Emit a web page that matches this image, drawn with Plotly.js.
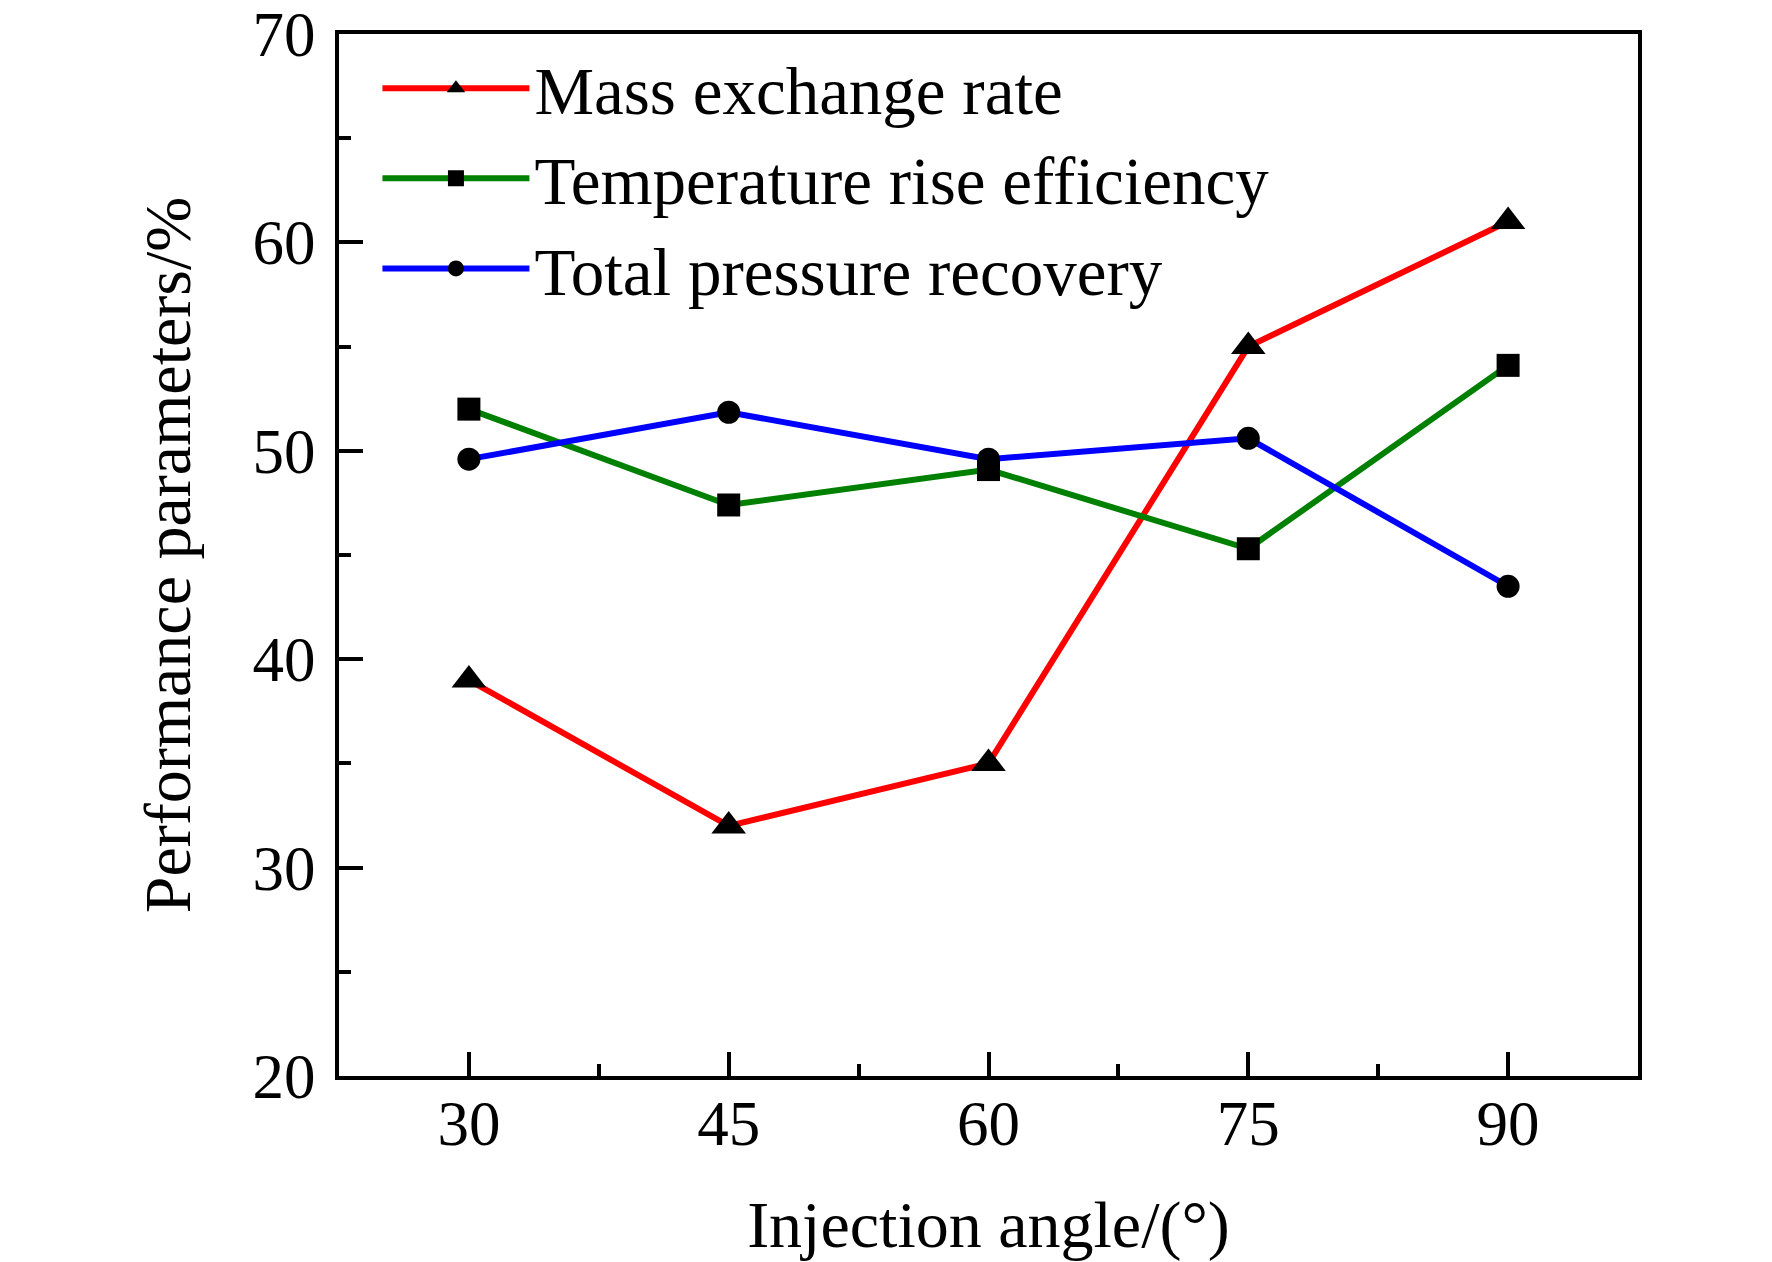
<!DOCTYPE html>
<html>
<head>
<meta charset="utf-8">
<script src="https://cdn.plot.ly/plotly-3.0.1.min.js"></script>
<style>html,body{margin:0;padding:0;background:#fff;}#chart{width:1772px;height:1262px;}</style>
</head>
<body>
<div id="chart"></div>
<script>
const injectionAngle = [30, 45, 60, 75, 90];
const massExchangeRate = [39, 32, 35, 55, 61];
const temperatureRiseEfficiency = [52, 47.4, 49.1, 45.3, 54.1];
const totalPressureRecovery = [49.6, 51.85, 49.6, 50.6, 43.5];
const seriesNames = ['Mass exchange rate', 'Temperature rise efficiency', 'Total pressure recovery'];
const xTickVals = [30, 45, 60, 75, 90];
const yTickVals = [20, 30, 40, 50, 60, 70];

const FONT = '"Liberation Serif", "Times New Roman", Times, serif';

function trace(y, name, color, symbol, size) {
  return {
    x: injectionAngle, y: y, name: name, type: 'scatter', mode: 'lines+markers',
    line: {color: color, width: 6},
    marker: {color: '#000', symbol: symbol, size: size, line: {width: 0}},
    cliponaxis: false
  };
}

const data = [
  trace(massExchangeRate, seriesNames[0], '#ff0000', 'triangle-up', 30),
  trace(temperatureRiseEfficiency, seriesNames[1], '#008000', 'square', 23),
  trace(totalPressureRecovery, seriesNames[2], '#0000ff', 'circle', 23)
];

const axisCommon = {
  showgrid: false, zeroline: false,
  showline: true, linecolor: '#000', linewidth: 4, mirror: true,
  ticks: 'inside', ticklen: 24, tickwidth: 4, tickcolor: '#000',
  tickfont: {family: FONT, size: 63, color: '#000'},
  fixedrange: true
};

const layout = {
  width: 1772, height: 1262,
  paper_bgcolor: '#fff', plot_bgcolor: '#fff',
  margin: {l: 339, r: 134, t: 34, b: 186, pad: 0},
  font: {family: FONT, color: '#000'},
  showlegend: true,
  legend: {
    x: 0.0296, y: 0.996, xanchor: 'left', yanchor: 'top',
    bgcolor: 'rgba(0,0,0,0)', borderwidth: 0,
    font: {family: FONT, size: 67, color: '#000'},
    itemwidth: 147, tracegroupgap: 0
  },
  xaxis: Object.assign({}, axisCommon, {
    range: [22.5, 97.5], tickmode: 'array', tickvals: xTickVals, ticktext: xTickVals.map(String),
    minor: {dtick: 7.5, tick0: 22.5, ticks: 'inside', ticklen: 12, tickwidth: 4, tickcolor: '#000', showgrid: false},
    ticklabelstandoff: -11,
    title: {text: 'Injection angle/(°)', font: {family: FONT, size: 66, color: '#000'}, standoff: 64}
  }),
  yaxis: Object.assign({}, axisCommon, {
    range: [20, 70], tickmode: 'array', tickvals: yTickVals, ticktext: yTickVals.map(String),
    minor: {dtick: 5, tick0: 20, ticks: 'inside', ticklen: 12, tickwidth: 4, tickcolor: '#000', showgrid: false},
    ticklabelstandoff: 7,
    title: {text: 'Performance parameters/%', font: {family: FONT, size: 66, color: '#000'}, standoff: 41}
  })
};

Plotly.newPlot('chart', data, layout, {displayModeBar: false, staticPlot: true});
</script>
</body>
</html>
